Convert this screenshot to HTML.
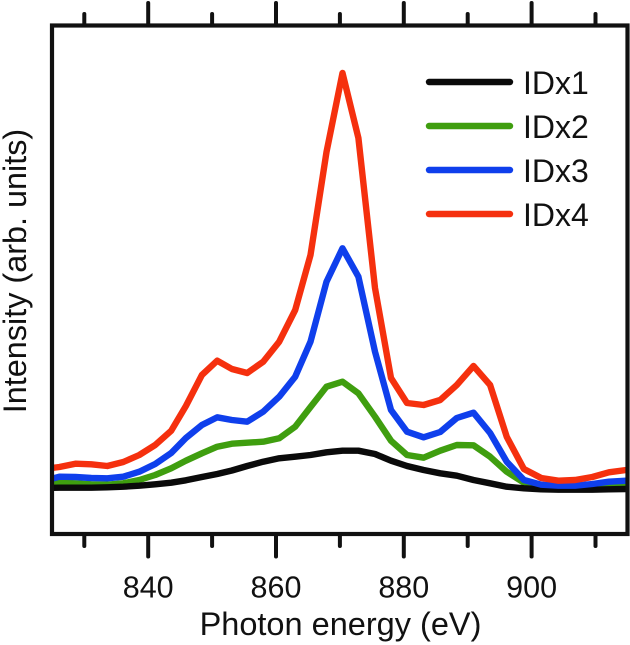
<!DOCTYPE html>
<html lang="en">
<head>
<meta charset="utf-8">
<title>Photon energy spectra</title>
<style>
html,body{margin:0;padding:0;background:#fff;width:630px;height:645px;overflow:hidden}
svg{display:block}
text{font-family:"Liberation Sans",Arial,sans-serif;fill:#111}
</style>
</head>
<body>
<svg id="chart" width="630" height="645" viewBox="0 0 630 645" xmlns="http://www.w3.org/2000/svg">
  <defs>
    <clipPath id="plot-clip"><rect x="52" y="25" width="575.5" height="509"></rect></clipPath>
  </defs>
  <g id="series" clip-path="url(#plot-clip)"></g>
  <rect x="52" y="25.5" width="575.5" height="508.5" fill="none" stroke="#111" stroke-width="4.2"></rect>
  <g id="ticks"></g>
  <g id="tick-labels"></g>
  <text x="340.5" y="635" font-size="32.5" text-anchor="middle">Photon energy (eV)</text>
  <text transform="translate(26,271) rotate(-90)" font-size="32.4" text-anchor="middle">Intensity (arb. units)</text>
  <g id="legend"></g>
</svg>
<script>
const energies = [823.6,826.1,828.6,831.1,833.6,836.1,838.6,841.1,843.6,845.9,848.4,850.8,853.1,855.5,858.0,860.5,863.0,865.4,867.9,870.4,872.9,875.5,878.0,880.5,883.1,885.7,888.3,890.9,893.5,896.1,898.8,901.5,904.2,906.8,909.5,912.1,914.8,917.5];
const idx1 = [46,46.3,46.3,46.3,46.7,47.3,48.3,49.7,51.3,53.7,57,60,63.5,68,72.3,75.7,77.3,79,81.7,83.3,83.3,80,73.3,68,64,60.7,58.3,54,50.7,47.3,45.7,44.7,44.3,44.3,44.3,44.7,45,45];
const idx2 = [50,51.3,50.7,49.7,49.3,50.7,54,59,65.7,73.3,80.7,87.3,90.3,91.3,92.3,95.7,107.3,127,147.3,152.3,140.7,117.3,93.3,79,76.3,83.3,89,88.7,77.3,62.3,51.3,47.3,45.7,45.7,46.7,48.3,50,51];
const idx3 = [53,57.3,57,56,55.7,57.3,62.3,70,81,96,109,116.7,114,112.3,122.3,137.3,157.3,192.3,252.3,285.7,257.3,182.3,124,102.3,96.7,102,116,121.3,101,72.3,54,49.3,48.3,48.3,50,52.3,53.3,54];
const idx4 = [65,67,70.3,69.7,68,72,79,89,103.3,128,159,173.3,165,161,172.3,192.3,224,279,382,461,396,246,156,131,129,134,149,168,149,97.3,65,56,53.3,54,57,61.7,64,66];
const seriesNames = ["IDx1","IDx2","IDx3","IDx4"];
const majorTicks = [840,860,880,900];
const minorTicks = [830,850,870,890,910];

const NS = "http://www.w3.org/2000/svg";
const xScale = e => 148.2 + (e - 840) * 6.39;
const yScale = v => 534 - v;
const seriesData = {IDx1: idx1, IDx2: idx2, IDx3: idx3, IDx4: idx4};
const seriesColors = {IDx1:"#0a0a0a", IDx2:"#3f9e0f", IDx3:"#0f3fec", IDx4:"#f5300e"};
const drawOrder = ["IDx2","IDx1","IDx3","IDx4"];

const seriesGroup = document.getElementById("series");
drawOrder.forEach(name => {
  const values = seriesData[name];
  const line = document.createElementNS(NS, "polyline");
  line.setAttribute("points", energies.map((e, i) => xScale(e).toFixed(1) + "," + yScale(values[i]).toFixed(1)).join(" "));
  line.setAttribute("fill", "none");
  line.setAttribute("stroke", seriesColors[name]);
  line.setAttribute("stroke-width", "6.4");
  line.setAttribute("stroke-linejoin", "round");
  
  
  seriesGroup.appendChild(line);
});

const tickGroup = document.getElementById("ticks");
function addTick(e, y1, y2, label) {
  const t = document.createElementNS(NS, "line");
  t.setAttribute("x1", xScale(e));
  t.setAttribute("x2", xScale(e));
  t.setAttribute("y1", y1);
  t.setAttribute("y2", y2);
  t.setAttribute("stroke", "#111");
  t.setAttribute("stroke-width", "4");
  t.setAttribute("stroke-linecap", "round");
  
  
  tickGroup.appendChild(t);
}
majorTicks.forEach(e => {
  addTick(e, 25, 3, "top-major-tick-" + e);
  addTick(e, 534, 556.5, "bottom-major-tick-" + e);
});
minorTicks.forEach(e => {
  addTick(e, 25, 14, "top-minor-tick-" + e);
  addTick(e, 534, 546, "bottom-minor-tick-" + e);
});

const labelGroup = document.getElementById("tick-labels");
majorTicks.forEach(e => {
  const t = document.createElementNS(NS, "text");
  t.setAttribute("x", xScale(e));
  t.setAttribute("y", 597.5);
  t.setAttribute("font-size", "30.5");
  t.setAttribute("text-anchor", "middle");
  
  
  t.textContent = String(e);
  labelGroup.appendChild(t);
});

const legendGroup = document.getElementById("legend");
seriesNames.forEach((name, i) => {
  const ly = 82 + i * 44;
  const l = document.createElementNS(NS, "line");
  l.setAttribute("x1", 429);
  l.setAttribute("x2", 510);
  l.setAttribute("y1", ly);
  l.setAttribute("y2", ly);
  l.setAttribute("stroke", seriesColors[name]);
  l.setAttribute("stroke-width", "6.4");
  l.setAttribute("stroke-linecap", "round");
  
  
  legendGroup.appendChild(l);
  const t = document.createElementNS(NS, "text");
  t.setAttribute("x", 523);
  t.setAttribute("y", ly + 12);
  t.setAttribute("font-size", "32");
  
  
  t.textContent = name;
  legendGroup.appendChild(t);
});
</script>
</body>
</html>
